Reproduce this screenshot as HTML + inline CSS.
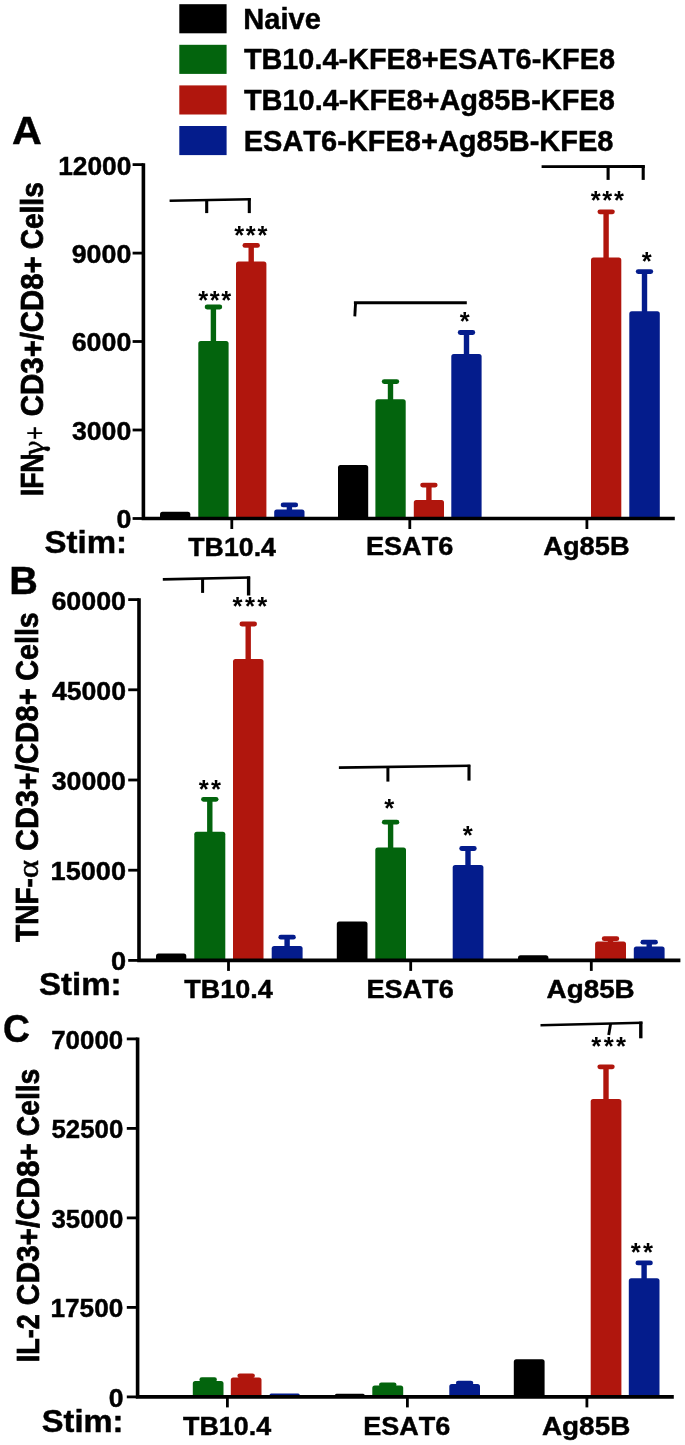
<!DOCTYPE html>
<html lang="en"><head><meta charset="utf-8"><title>Figure</title>
<style>html,body{margin:0;padding:0;background:#fff}svg{display:block}text{fill:#000;font-kerning:none;font-family:"Liberation Sans",sans-serif}</style></head><body>
<svg width="685" height="1445" viewBox="0 0 685 1445">
<rect width="685" height="1445" fill="#fff"/>
<rect x="179.3" y="4.2" width="47.3" height="29.1" fill="#000000"/>
<text x="243.24" y="28.6" font-size="29.26" font-weight="bold"  textLength="77.59" lengthAdjust="spacingAndGlyphs" stroke="#000" stroke-width="0.45">Naive</text>
<rect x="179.3" y="44.8" width="47.3" height="29.1" fill="#03640d"/>
<text x="243.88" y="68.9" font-size="29.26" font-weight="bold"  textLength="371.13" lengthAdjust="spacingAndGlyphs" stroke="#000" stroke-width="0.45">TB10.4-KFE8+ESAT6-KFE8</text>
<rect x="179.3" y="85.4" width="47.3" height="29.1" fill="#b0160d"/>
<text x="243.88" y="109.5" font-size="29.26" font-weight="bold"  textLength="371.01" lengthAdjust="spacingAndGlyphs" stroke="#000" stroke-width="0.45">TB10.4-KFE8+Ag85B-KFE8</text>
<rect x="179.3" y="126.0" width="47.3" height="29.1" fill="#041c8c"/>
<text x="243.74" y="151.0" font-size="29.26" font-weight="bold"  textLength="369.75" lengthAdjust="spacingAndGlyphs" stroke="#000" stroke-width="0.45">ESAT6-KFE8+Ag85B-KFE8</text>
<text x="11.98" y="143.7" font-size="39.56" font-weight="bold"  textLength="29.80" lengthAdjust="spacingAndGlyphs" stroke="#000" stroke-width="0.45">A</text>
<text x="9.37" y="593.5" font-size="39.56" font-weight="bold"  textLength="28.62" lengthAdjust="spacingAndGlyphs" stroke="#000" stroke-width="0.45">B</text>
<text x="3.08" y="1041.8" font-size="39.56" font-weight="bold"  textLength="26.90" lengthAdjust="spacingAndGlyphs" stroke="#000" stroke-width="0.45">C</text>
<text transform="rotate(-90)" font-weight="bold"><tspan x="-496.25" y="43.1" font-size="30.9"  textLength="42.80" lengthAdjust="spacingAndGlyphs" stroke="#000" stroke-width="0.75">IFN</tspan><tspan x="-458.18" y="43.5" font-size="28.12" font-weight="normal" font-family="'DejaVu Math TeX Gyre', 'Liberation Serif', serif"  textLength="19.18" lengthAdjust="spacingAndGlyphs" stroke="#000" stroke-width="0.4">γ</tspan><tspan x="-440.06" y="45.4" font-size="29.44" font-weight="normal"  textLength="13.88" lengthAdjust="spacingAndGlyphs" stroke="#000" stroke-width="0.3">+</tspan> <tspan x="-416.22" y="43.1" font-size="30.9"  textLength="84.24" lengthAdjust="spacingAndGlyphs" stroke="#000" stroke-width="0.75">CD3+/</tspan><tspan x="-332.22" y="43.1" font-size="30.9"  textLength="76.02" lengthAdjust="spacingAndGlyphs" stroke="#000" stroke-width="0.75">CD8+</tspan> <tspan x="-249.36" y="43.1" font-size="30.9"  textLength="67.11" lengthAdjust="spacingAndGlyphs" stroke="#000" stroke-width="0.75">Cells</tspan></text>
<path d="M160.0 518.5V514.2Q160.0 511.7 162.5 511.7H187.8Q190.3 511.7 190.3 514.2V518.5Z" fill="#000000"/>
<line x1="213.4" y1="343.0" x2="213.4" y2="307.0" stroke="#03640d" stroke-width="5.4"/><line x1="207.1" y1="307.0" x2="219.8" y2="307.0" stroke="#03640d" stroke-width="4.8" stroke-linecap="round"/><path d="M198.3 518.5V343.5Q198.3 341.0 200.8 341.0H226.1Q228.6 341.0 228.6 343.5V518.5Z" fill="#03640d"/>
<line x1="251.2" y1="263.5" x2="251.2" y2="245.4" stroke="#b0160d" stroke-width="5.4"/><line x1="244.9" y1="245.4" x2="257.5" y2="245.4" stroke="#b0160d" stroke-width="4.8" stroke-linecap="round"/><path d="M236.0 518.5V264.0Q236.0 261.5 238.5 261.5H263.9Q266.4 261.5 266.4 264.0V518.5Z" fill="#b0160d"/>
<line x1="289.4" y1="511.5" x2="289.4" y2="504.9" stroke="#041c8c" stroke-width="5.4"/><line x1="283.1" y1="504.9" x2="295.7" y2="504.9" stroke="#041c8c" stroke-width="4.8" stroke-linecap="round"/><path d="M274.2 518.5V512.0Q274.2 509.5 276.7 509.5H302.0Q304.5 509.5 304.5 512.0V518.5Z" fill="#041c8c"/>
<path d="M338.0 518.5V467.5Q338.0 465.0 340.5 465.0H365.7Q368.2 465.0 368.2 467.5V518.5Z" fill="#000000"/>
<line x1="390.5" y1="401.2" x2="390.5" y2="381.6" stroke="#03640d" stroke-width="5.4"/><line x1="384.2" y1="381.6" x2="396.8" y2="381.6" stroke="#03640d" stroke-width="4.8" stroke-linecap="round"/><path d="M375.4 518.5V401.7Q375.4 399.2 377.9 399.2H403.2Q405.7 399.2 405.7 401.7V518.5Z" fill="#03640d"/>
<line x1="428.9" y1="502.0" x2="428.9" y2="485.1" stroke="#b0160d" stroke-width="5.4"/><line x1="422.6" y1="485.1" x2="435.2" y2="485.1" stroke="#b0160d" stroke-width="4.8" stroke-linecap="round"/><path d="M413.8 518.5V502.5Q413.8 500.0 416.3 500.0H441.5Q444.0 500.0 444.0 502.5V518.5Z" fill="#b0160d"/>
<line x1="466.5" y1="356.0" x2="466.5" y2="332.5" stroke="#041c8c" stroke-width="5.4"/><line x1="460.2" y1="332.5" x2="472.8" y2="332.5" stroke="#041c8c" stroke-width="4.8" stroke-linecap="round"/><path d="M451.3 518.5V356.5Q451.3 354.0 453.8 354.0H479.1Q481.6 354.0 481.6 356.5V518.5Z" fill="#041c8c"/>
<line x1="606.1" y1="259.6" x2="606.1" y2="211.8" stroke="#b0160d" stroke-width="5.4"/><line x1="599.9" y1="211.8" x2="612.4" y2="211.8" stroke="#b0160d" stroke-width="4.8" stroke-linecap="round"/><path d="M591.0 518.5V260.1Q591.0 257.6 593.5 257.6H618.8Q621.3 257.6 621.3 260.1V518.5Z" fill="#b0160d"/>
<line x1="644.5" y1="313.3" x2="644.5" y2="271.6" stroke="#041c8c" stroke-width="5.4"/><line x1="638.2" y1="271.6" x2="650.8" y2="271.6" stroke="#041c8c" stroke-width="4.8" stroke-linecap="round"/><path d="M629.3 518.5V313.8Q629.3 311.3 631.8 311.3H657.3Q659.8 311.3 659.8 313.8V518.5Z" fill="#041c8c"/>
<path d="M143.4 163.2V518.5H674.8" fill="none" stroke="#000" stroke-width="3.6" stroke-linejoin="miter"/>
<line x1="132.6" y1="164.6" x2="143.4" y2="164.6" stroke="#000" stroke-width="2.8"/>
<text x="58.16" y="174.5" font-size="26.06" font-weight="bold"  textLength="73.11" lengthAdjust="spacingAndGlyphs" stroke="#000" stroke-width="0.45">12000</text>
<line x1="132.6" y1="253.1" x2="143.4" y2="253.1" stroke="#000" stroke-width="2.8"/>
<text x="71.70" y="263.0" font-size="26.06" font-weight="bold"  textLength="59.62" lengthAdjust="spacingAndGlyphs" stroke="#000" stroke-width="0.45">9000</text>
<line x1="132.6" y1="341.5" x2="143.4" y2="341.5" stroke="#000" stroke-width="2.8"/>
<text x="71.70" y="351.4" font-size="26.06" font-weight="bold"  textLength="59.62" lengthAdjust="spacingAndGlyphs" stroke="#000" stroke-width="0.45">6000</text>
<line x1="132.6" y1="430.0" x2="143.4" y2="430.0" stroke="#000" stroke-width="2.8"/>
<text x="71.96" y="439.9" font-size="26.06" font-weight="bold"  textLength="59.35" lengthAdjust="spacingAndGlyphs" stroke="#000" stroke-width="0.45">3000</text>
<line x1="132.6" y1="518.5" x2="143.4" y2="518.5" stroke="#000" stroke-width="2.8"/>
<text x="116.60" y="528.4" font-size="26.06" font-weight="bold"  textLength="14.91" lengthAdjust="spacingAndGlyphs" stroke="#000" stroke-width="0.45">0</text>
<line x1="231.8" y1="518.5" x2="231.8" y2="529.0" stroke="#000" stroke-width="2.8"/>
<line x1="409.8" y1="518.5" x2="409.8" y2="529.0" stroke="#000" stroke-width="2.8"/>
<line x1="586.9" y1="518.5" x2="586.9" y2="529.0" stroke="#000" stroke-width="2.8"/>
<text x="44.56" y="553.3" font-size="31.06" font-weight="bold"  textLength="82.54" lengthAdjust="spacingAndGlyphs" stroke="#000" stroke-width="0.45">Stim:</text>
<text x="188.27" y="555.6" font-size="26.46" font-weight="bold"  textLength="87.70" lengthAdjust="spacingAndGlyphs" stroke="#000" stroke-width="0.45">TB10.4</text>
<text x="365.93" y="555.4" font-size="26.46" font-weight="bold"  textLength="87.38" lengthAdjust="spacingAndGlyphs" stroke="#000" stroke-width="0.45">ESAT6</text>
<text x="543.25" y="555.4" font-size="26.46" font-weight="bold"  textLength="86.36" lengthAdjust="spacingAndGlyphs" stroke="#000" stroke-width="0.45">Ag85B</text>
<path d="M169.6 200.7L250.8 199.2" fill="none" stroke="#000" stroke-width="2.5" stroke-linejoin="miter"/>
<path d="M206.7 200.0L206.7 213.1" fill="none" stroke="#000" stroke-width="3.1" stroke-linejoin="miter"/>
<path d="M249.3 198.2L249.3 213.1" fill="none" stroke="#000" stroke-width="3.1" stroke-linejoin="miter"/>
<text x="234.24" y="244" font-size="25.5" font-weight="bold" letter-spacing="1.67" >***</text>
<text x="198.14" y="309" font-size="25.5" font-weight="bold" letter-spacing="1.67" >***</text>
<path d="M353.9 302.8L466.8 302.8" fill="none" stroke="#000" stroke-width="3.1" stroke-linejoin="miter"/>
<path d="M355.6 302.0L354.8 316.3" fill="none" stroke="#000" stroke-width="2.9" stroke-linejoin="miter"/>
<text x="459.69" y="330" font-size="25.5" font-weight="bold" letter-spacing="1.67" >*</text>
<path d="M541.6 166.7L644.8 166.5" fill="none" stroke="#000" stroke-width="2.8" stroke-linejoin="miter"/>
<path d="M643.2 165.5L643.2 179.9" fill="none" stroke="#000" stroke-width="3.1" stroke-linejoin="miter"/>
<path d="M608.1 166.6L608.1 179.9" fill="none" stroke="#000" stroke-width="3.1" stroke-linejoin="miter"/>
<text x="590.74" y="209" font-size="25.5" font-weight="bold" letter-spacing="1.67" >***</text>
<text x="641.74" y="270" font-size="25.5" font-weight="bold" letter-spacing="1.67" >*</text>
<text transform="rotate(-90)" font-weight="bold"><tspan x="-941.95" y="37.7" font-size="30.9"  textLength="63.80" lengthAdjust="spacingAndGlyphs" stroke="#000" stroke-width="0.75">TNF-</tspan><tspan x="-878.32" y="37.7" font-size="29.6" font-weight="normal" font-family="'Liberation Serif', serif"  textLength="18.27" lengthAdjust="spacingAndGlyphs" stroke="#000" stroke-width="0.5">α</tspan> <tspan x="-850.95" y="37.7" font-size="30.9"  textLength="86.99" lengthAdjust="spacingAndGlyphs" stroke="#000" stroke-width="0.75">CD3+/</tspan><tspan x="-764.11" y="37.7" font-size="30.9"  textLength="75.92" lengthAdjust="spacingAndGlyphs" stroke="#000" stroke-width="0.75">CD8+</tspan> <tspan x="-680.68" y="37.7" font-size="30.9"  textLength="68.45" lengthAdjust="spacingAndGlyphs" stroke="#000" stroke-width="0.75">Cells</tspan></text>
<path d="M156.0 960.4V956.1Q156.0 953.6 158.5 953.6H183.8Q186.3 953.6 186.3 956.1V960.4Z" fill="#000000"/>
<line x1="209.8" y1="833.8" x2="209.8" y2="799.3" stroke="#03640d" stroke-width="5.4"/><line x1="203.5" y1="799.3" x2="216.1" y2="799.3" stroke="#03640d" stroke-width="4.8" stroke-linecap="round"/><path d="M194.3 960.4V834.3Q194.3 831.8 196.8 831.8H222.8Q225.3 831.8 225.3 834.3V960.4Z" fill="#03640d"/>
<line x1="248.2" y1="661.0" x2="248.2" y2="624.0" stroke="#b0160d" stroke-width="5.4"/><line x1="241.9" y1="624.0" x2="254.6" y2="624.0" stroke="#b0160d" stroke-width="4.8" stroke-linecap="round"/><path d="M233.0 960.4V661.5Q233.0 659.0 235.5 659.0H261.0Q263.5 659.0 263.5 661.5V960.4Z" fill="#b0160d"/>
<line x1="287.1" y1="948.0" x2="287.1" y2="937.2" stroke="#041c8c" stroke-width="5.4"/><line x1="280.8" y1="937.2" x2="293.4" y2="937.2" stroke="#041c8c" stroke-width="4.8" stroke-linecap="round"/><path d="M271.7 960.4V948.5Q271.7 946.0 274.2 946.0H300.1Q302.6 946.0 302.6 948.5V960.4Z" fill="#041c8c"/>
<path d="M336.8 960.4V924.1Q336.8 921.6 339.3 921.6H365.0Q367.5 921.6 367.5 924.1V960.4Z" fill="#000000"/>
<line x1="390.6" y1="849.6" x2="390.6" y2="822.2" stroke="#03640d" stroke-width="5.4"/><line x1="384.3" y1="822.2" x2="396.9" y2="822.2" stroke="#03640d" stroke-width="4.8" stroke-linecap="round"/><path d="M375.3 960.4V850.1Q375.3 847.6 377.8 847.6H403.5Q406.0 847.6 406.0 850.1V960.4Z" fill="#03640d"/>
<line x1="468.0" y1="867.1" x2="468.0" y2="848.5" stroke="#041c8c" stroke-width="5.4"/><line x1="461.7" y1="848.5" x2="474.3" y2="848.5" stroke="#041c8c" stroke-width="4.8" stroke-linecap="round"/><path d="M452.7 960.4V867.6Q452.7 865.1 455.2 865.1H480.9Q483.4 865.1 483.4 867.6V960.4Z" fill="#041c8c"/>
<path d="M518.0 960.4V957.8Q518.0 955.3 520.5 955.3H545.9Q548.4 955.3 548.4 957.8V960.4Z" fill="#000000"/>
<line x1="610.5" y1="943.6" x2="610.5" y2="938.7" stroke="#b0160d" stroke-width="5.4"/><line x1="604.2" y1="938.7" x2="616.8" y2="938.7" stroke="#b0160d" stroke-width="4.8" stroke-linecap="round"/><path d="M595.1 960.4V944.1Q595.1 941.6 597.6 941.6H623.5Q626.0 941.6 626.0 944.1V960.4Z" fill="#b0160d"/>
<line x1="649.2" y1="948.6" x2="649.2" y2="942.2" stroke="#041c8c" stroke-width="5.4"/><line x1="642.9" y1="942.2" x2="655.5" y2="942.2" stroke="#041c8c" stroke-width="4.8" stroke-linecap="round"/><path d="M633.8 960.4V949.1Q633.8 946.6 636.3 946.6H662.1Q664.6 946.6 664.6 949.1V960.4Z" fill="#041c8c"/>
<path d="M139.0 598.2V960.4H680.4" fill="none" stroke="#000" stroke-width="3.6" stroke-linejoin="miter"/>
<line x1="128.2" y1="599.6" x2="139.0" y2="599.6" stroke="#000" stroke-width="2.8"/>
<text x="51.40" y="609.5" font-size="26.06" font-weight="bold"  textLength="74.60" lengthAdjust="spacingAndGlyphs" stroke="#000" stroke-width="0.45">60000</text>
<line x1="128.2" y1="689.8" x2="139.0" y2="689.8" stroke="#000" stroke-width="2.8"/>
<text x="51.91" y="699.7" font-size="26.06" font-weight="bold"  textLength="74.08" lengthAdjust="spacingAndGlyphs" stroke="#000" stroke-width="0.45">45000</text>
<line x1="128.2" y1="780.0" x2="139.0" y2="780.0" stroke="#000" stroke-width="2.8"/>
<text x="51.66" y="789.9" font-size="26.06" font-weight="bold"  textLength="74.34" lengthAdjust="spacingAndGlyphs" stroke="#000" stroke-width="0.45">30000</text>
<line x1="128.2" y1="870.2" x2="139.0" y2="870.2" stroke="#000" stroke-width="2.8"/>
<text x="50.60" y="880.1" font-size="26.06" font-weight="bold"  textLength="75.41" lengthAdjust="spacingAndGlyphs" stroke="#000" stroke-width="0.45">15000</text>
<line x1="128.2" y1="960.4" x2="139.0" y2="960.4" stroke="#000" stroke-width="2.8"/>
<text x="111.08" y="970.2" font-size="26.06" font-weight="bold"  textLength="15.14" lengthAdjust="spacingAndGlyphs" stroke="#000" stroke-width="0.45">0</text>
<line x1="228.5" y1="960.4" x2="228.5" y2="970.9" stroke="#000" stroke-width="2.8"/>
<line x1="410.7" y1="960.4" x2="410.7" y2="970.9" stroke="#000" stroke-width="2.8"/>
<line x1="591.3" y1="960.4" x2="591.3" y2="970.9" stroke="#000" stroke-width="2.8"/>
<text x="39.06" y="995.2" font-size="31.06" font-weight="bold"  textLength="82.54" lengthAdjust="spacingAndGlyphs" stroke="#000" stroke-width="0.45">Stim:</text>
<text x="184.17" y="998.2" font-size="26.46" font-weight="bold"  textLength="88.51" lengthAdjust="spacingAndGlyphs" stroke="#000" stroke-width="0.45">TB10.4</text>
<text x="366.43" y="998.0" font-size="26.46" font-weight="bold"  textLength="87.28" lengthAdjust="spacingAndGlyphs" stroke="#000" stroke-width="0.45">ESAT6</text>
<text x="546.54" y="998.0" font-size="26.46" font-weight="bold"  textLength="88.20" lengthAdjust="spacingAndGlyphs" stroke="#000" stroke-width="0.45">Ag85B</text>
<path d="M162.8 579.4L250.1 577.5" fill="none" stroke="#000" stroke-width="2.6" stroke-linejoin="miter"/>
<path d="M248.6 576.5L248.6 595.5" fill="none" stroke="#000" stroke-width="3.4" stroke-linejoin="miter"/>
<path d="M202.6 578.6L202.6 592.9" fill="none" stroke="#000" stroke-width="3.0" stroke-linejoin="miter"/>
<text x="232.60" y="615" font-size="25.7" font-weight="bold" letter-spacing="2.29" >***</text>
<text x="198.65" y="798" font-size="25.7" font-weight="bold" letter-spacing="2.29" >**</text>
<path d="M338.9 767.6L470.2 765.8" fill="none" stroke="#000" stroke-width="2.6" stroke-linejoin="miter"/>
<path d="M469.0 764.8L469.0 780.6" fill="none" stroke="#000" stroke-width="3.1" stroke-linejoin="miter"/>
<path d="M387.9 766.8L387.9 781.6" fill="none" stroke="#000" stroke-width="3.0" stroke-linejoin="miter"/>
<text x="384.20" y="817" font-size="25.7" font-weight="bold" letter-spacing="2.29" >*</text>
<text x="462.75" y="844" font-size="25.7" font-weight="bold" letter-spacing="2.29" >*</text>
<text transform="rotate(-90)" font-weight="bold"><tspan x="-1362.17" y="39.3" font-size="30.9"  textLength="47.92" lengthAdjust="spacingAndGlyphs" stroke="#000" stroke-width="0.75">IL-2</tspan> <tspan x="-1305.13" y="39.3" font-size="30.9"  textLength="85.36" lengthAdjust="spacingAndGlyphs" stroke="#000" stroke-width="0.75">CD3+/</tspan><tspan x="-1219.82" y="39.3" font-size="30.9"  textLength="76.64" lengthAdjust="spacingAndGlyphs" stroke="#000" stroke-width="0.75">CD8+</tspan> <tspan x="-1136.27" y="39.3" font-size="30.9"  textLength="67.63" lengthAdjust="spacingAndGlyphs" stroke="#000" stroke-width="0.75">Cells</tspan></text>
<line x1="208.2" y1="1383.0" x2="208.2" y2="1379.7" stroke="#03640d" stroke-width="5.4"/><line x1="201.8" y1="1379.7" x2="214.5" y2="1379.7" stroke="#03640d" stroke-width="4.8" stroke-linecap="round"/><path d="M192.8 1396.9V1383.5Q192.8 1381.0 195.3 1381.0H221.0Q223.5 1381.0 223.5 1383.5V1396.9Z" fill="#03640d"/>
<line x1="246.2" y1="1379.6" x2="246.2" y2="1375.8" stroke="#b0160d" stroke-width="5.4"/><line x1="239.8" y1="1375.8" x2="252.5" y2="1375.8" stroke="#b0160d" stroke-width="4.8" stroke-linecap="round"/><path d="M230.8 1396.9V1380.1Q230.8 1377.6 233.3 1377.6H259.0Q261.5 1377.6 261.5 1380.1V1396.9Z" fill="#b0160d"/>
<path d="M269.5 1396.9V1395.2Q269.5 1393.6 271.2 1393.6H298.1Q299.8 1393.6 299.8 1395.2V1396.9Z" fill="#041c8c"/>
<path d="M334.9 1396.9V1395.3Q334.9 1393.8 336.5 1393.8H363.1Q364.7 1393.8 364.7 1395.3V1396.9Z" fill="#000000"/>
<line x1="387.8" y1="1387.4" x2="387.8" y2="1384.8" stroke="#03640d" stroke-width="5.4"/><line x1="381.4" y1="1384.8" x2="394.1" y2="1384.8" stroke="#03640d" stroke-width="4.8" stroke-linecap="round"/><path d="M372.3 1396.9V1387.9Q372.3 1385.4 374.8 1385.4H400.7Q403.2 1385.4 403.2 1387.9V1396.9Z" fill="#03640d"/>
<line x1="464.6" y1="1386.0" x2="464.6" y2="1383.1" stroke="#041c8c" stroke-width="5.4"/><line x1="458.3" y1="1383.1" x2="470.9" y2="1383.1" stroke="#041c8c" stroke-width="4.8" stroke-linecap="round"/><path d="M449.3 1396.9V1386.5Q449.3 1384.0 451.8 1384.0H477.5Q480.0 1384.0 480.0 1386.5V1396.9Z" fill="#041c8c"/>
<path d="M513.8 1396.9V1361.8Q513.8 1359.3 516.3 1359.3H542.1Q544.6 1359.3 544.6 1361.8V1396.9Z" fill="#000000"/>
<line x1="606.0" y1="1101.0" x2="606.0" y2="1066.8" stroke="#b0160d" stroke-width="5.4"/><line x1="599.8" y1="1066.8" x2="612.3" y2="1066.8" stroke="#b0160d" stroke-width="4.8" stroke-linecap="round"/><path d="M590.7 1396.9V1101.5Q590.7 1099.0 593.2 1099.0H618.9Q621.4 1099.0 621.4 1101.5V1396.9Z" fill="#b0160d"/>
<line x1="644.1" y1="1280.3" x2="644.1" y2="1262.9" stroke="#041c8c" stroke-width="5.4"/><line x1="637.9" y1="1262.9" x2="650.4" y2="1262.9" stroke="#041c8c" stroke-width="4.8" stroke-linecap="round"/><path d="M628.8 1396.9V1280.8Q628.8 1278.3 631.3 1278.3H657.0Q659.5 1278.3 659.5 1280.8V1396.9Z" fill="#041c8c"/>
<path d="M137.6 1037.5V1396.9H673.8" fill="none" stroke="#000" stroke-width="3.6" stroke-linejoin="miter"/>
<line x1="126.8" y1="1038.9" x2="137.6" y2="1038.9" stroke="#000" stroke-width="2.8"/>
<text x="51.23" y="1048.8" font-size="26.06" font-weight="bold"  textLength="72.03" lengthAdjust="spacingAndGlyphs" stroke="#000" stroke-width="0.45">70000</text>
<line x1="126.8" y1="1128.4" x2="137.6" y2="1128.4" stroke="#000" stroke-width="2.8"/>
<text x="51.48" y="1138.3" font-size="26.06" font-weight="bold"  textLength="71.77" lengthAdjust="spacingAndGlyphs" stroke="#000" stroke-width="0.45">52500</text>
<line x1="126.8" y1="1217.9" x2="137.6" y2="1217.9" stroke="#000" stroke-width="2.8"/>
<text x="51.48" y="1227.8" font-size="26.06" font-weight="bold"  textLength="71.77" lengthAdjust="spacingAndGlyphs" stroke="#000" stroke-width="0.45">35000</text>
<line x1="126.8" y1="1307.4" x2="137.6" y2="1307.4" stroke="#000" stroke-width="2.8"/>
<text x="50.47" y="1317.3" font-size="26.06" font-weight="bold"  textLength="72.80" lengthAdjust="spacingAndGlyphs" stroke="#000" stroke-width="0.45">17500</text>
<line x1="126.8" y1="1396.9" x2="137.6" y2="1396.9" stroke="#000" stroke-width="2.8"/>
<text x="108.70" y="1406.8" font-size="26.06" font-weight="bold"  textLength="14.79" lengthAdjust="spacingAndGlyphs" stroke="#000" stroke-width="0.45">0</text>
<line x1="227.4" y1="1396.9" x2="227.4" y2="1407.4" stroke="#000" stroke-width="2.8"/>
<line x1="407.4" y1="1396.9" x2="407.4" y2="1407.4" stroke="#000" stroke-width="2.8"/>
<line x1="586.9" y1="1396.9" x2="586.9" y2="1407.4" stroke="#000" stroke-width="2.8"/>
<text x="41.87" y="1431.9" font-size="31.06" font-weight="bold"  textLength="81.59" lengthAdjust="spacingAndGlyphs" stroke="#000" stroke-width="0.45">Stim:</text>
<text x="183.07" y="1434.7" font-size="26.46" font-weight="bold"  textLength="88.10" lengthAdjust="spacingAndGlyphs" stroke="#000" stroke-width="0.45">TB10.4</text>
<text x="363.34" y="1434.7" font-size="26.46" font-weight="bold"  textLength="87.07" lengthAdjust="spacingAndGlyphs" stroke="#000" stroke-width="0.45">ESAT6</text>
<text x="541.93" y="1434.6" font-size="26.46" font-weight="bold"  textLength="88.41" lengthAdjust="spacingAndGlyphs" stroke="#000" stroke-width="0.45">Ag85B</text>
<path d="M540.5 1025.2L642.4 1022.8" fill="none" stroke="#000" stroke-width="2.6" stroke-linejoin="miter"/>
<path d="M640.8 1021.6L640.8 1038.3" fill="none" stroke="#000" stroke-width="3.4" stroke-linejoin="miter"/>
<path d="M610.6 1023.8L608.7 1035.0" fill="none" stroke="#000" stroke-width="2.9" stroke-linejoin="miter"/>
<text x="591.35" y="1055" font-size="25.7" font-weight="bold" letter-spacing="2.29" >***</text>
<text x="630.65" y="1261" font-size="25.7" font-weight="bold" letter-spacing="2.29" >**</text>
</svg></body></html>
